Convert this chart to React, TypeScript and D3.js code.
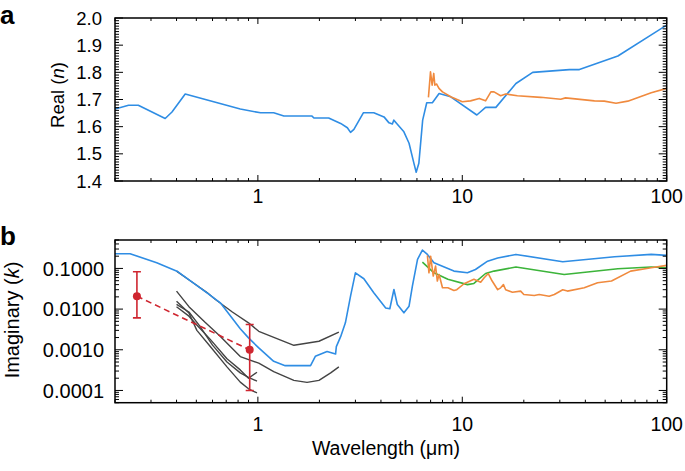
import React from 'react';
import * as d3 from 'd3';

// ---------- data ----------
const xTickLabels = ['1', '10', '100'];
const xTickValues = [1, 10, 100];
const realTickValues = [1.4, 1.5, 1.6, 1.7, 1.8, 1.9, 2.0];
const imagTickValues = [0.0001, 0.001, 0.01, 0.1];
const imagTickLabels = ['0.0001', '0.0010', '0.0100', '0.1000'];

// Panel a: real part
const realBlueWl = [0.2, 0.233, 0.26, 0.352, 0.38, 0.441, 0.82, 1.03, 1.195, 1.34, 1.84, 1.88, 2.22, 2.54, 2.74, 2.84, 2.95, 3.28, 3.69, 4.14, 4.38, 4.55, 4.62, 4.8, 5.18, 5.49, 5.8, 5.95, 6.13, 6.4, 6.7, 7.14, 7.7, 8.78, 11.78, 13.0, 14.6, 18.3, 22.1, 33.4, 37.4, 57.7, 100];
const realBlueN = [1.665, 1.679, 1.679, 1.630, 1.654, 1.72, 1.665, 1.651, 1.651, 1.639, 1.639, 1.632, 1.632, 1.612, 1.596, 1.579, 1.590, 1.651, 1.651, 1.636, 1.614, 1.61, 1.624, 1.61, 1.581, 1.539, 1.465, 1.432, 1.465, 1.624, 1.688, 1.688, 1.722, 1.71, 1.643, 1.671, 1.671, 1.759, 1.80, 1.81, 1.81, 1.86, 1.974];
const realOrangeWl = [6.83, 6.99, 7.12, 7.25, 7.34, 7.49, 7.69, 8.0, 8.78, 10.0, 10.97, 12.1, 13.0, 13.8, 14.3, 15.4, 16.3, 18.6, 24.2, 30.3, 32, 44.3, 49.5, 56.5, 64.5, 84, 100];
const realOrangeN = [1.708, 1.802, 1.753, 1.796, 1.753, 1.757, 1.741, 1.728, 1.71, 1.692, 1.695, 1.704, 1.695, 1.728, 1.728, 1.714, 1.72, 1.714, 1.708, 1.701, 1.706, 1.695, 1.694, 1.686, 1.694, 1.725, 1.741];

// Panel b: imaginary part
const imagBlueWl = [0.2, 0.237, 0.32, 0.402, 0.564, 0.655, 0.82, 0.90, 1.01, 1.195, 1.36, 1.81, 1.91, 2.18, 2.4, 2.42, 2.54, 2.68, 2.84, 3.0, 3.3, 3.69, 4.22, 4.42, 4.63, 4.81, 5.18, 5.49, 5.7, 6.04, 6.38, 6.75, 7.27, 9.1, 10.6, 11.6, 13.3, 14.9, 18.3, 31, 55.6, 84, 100];
const imagBlueK = [0.23, 0.23, 0.138, 0.0858, 0.0251, 0.0143, 0.0033, 0.00196, 0.00111, 0.00052, 0.000407, 0.000407, 0.00069, 0.00091, 0.00079, 0.0012, 0.0021, 0.0046, 0.0209, 0.078, 0.0557, 0.0252, 0.0107, 0.0102, 0.0303, 0.013, 0.0081, 0.0118, 0.0366, 0.167, 0.283, 0.221, 0.138, 0.086, 0.078, 0.094, 0.151, 0.18, 0.221, 0.146, 0.194, 0.221, 0.209];
const imagGreenWl = [6.38, 7.27, 8.5, 10.6, 11.4, 13.0, 14.3, 18.3, 31.5, 57.7, 84, 100];
const imagGreenK = [0.143, 0.078, 0.054, 0.040, 0.0427, 0.075, 0.086, 0.108, 0.071, 0.0985, 0.108, 0.104];
const imagOrangeWl = [6.75, 6.87, 7.0, 7.21, 7.4, 7.55, 7.7, 8.0, 8.5, 9.1, 9.4, 10.2, 11.4, 12.3, 12.8, 13.4, 14.0, 14.9, 15.4, 15.9, 16.3, 17.6, 19.3, 20.0, 22.5, 23.8, 26.6, 28.2, 31, 32.7, 39.5, 45.9, 53.7, 66.6, 84, 100];
const imagOrangeK = [0.209, 0.078, 0.2, 0.065, 0.114, 0.049, 0.071, 0.0334, 0.0334, 0.0287, 0.030, 0.042, 0.054, 0.046, 0.059, 0.075, 0.049, 0.030, 0.0334, 0.040, 0.030, 0.026, 0.0277, 0.0229, 0.0216, 0.0229, 0.0208, 0.0229, 0.030, 0.0277, 0.0334, 0.0445, 0.049, 0.086, 0.104, 0.119];

// grey laboratory curves
const grey1Wl = [0.40, 0.48, 0.564, 0.62, 0.75, 0.9, 1.01, 1.5, 1.99, 2.49];
const grey1K = [0.0858, 0.045, 0.0255, 0.0172, 0.0085, 0.0046, 0.00285, 0.00129, 0.00162, 0.0027];
const grey2Wl = [0.40, 0.46, 0.55, 0.65, 0.82, 1.01, 1.195, 1.5, 1.74, 1.99, 2.27, 2.49];
const grey2K = [0.0276, 0.0115, 0.0048, 0.0022, 0.00068, 0.00047, 0.00029, 0.000177, 0.000158, 0.000177, 0.00027, 0.00038];
const grey3Wl = [0.40, 0.46, 0.50, 0.585, 0.706, 0.82, 0.90, 0.99];
const grey3K = [0.0114, 0.0067, 0.0042, 0.0018, 0.0006, 0.00032, 0.0002, 0.00028];
const grey4Wl = [0.40, 0.46, 0.52, 0.60, 0.706, 0.82, 0.90, 0.99];
const grey4K = [0.013, 0.0085, 0.0038, 0.0013, 0.0005, 0.00027, 0.00021, 0.00017];
const grey5Wl = [0.40, 0.46, 0.503, 0.585, 0.706, 0.82, 0.90, 0.99];
const grey5K = [0.0156, 0.008, 0.003, 0.0012, 0.00038, 0.00016, 0.00011, 0.000087];

// red estimates with error bars
const redWl = [0.256, 0.912];
const redK = [0.0207, 0.001];
const redLo = [0.0061, 0.0001];
const redHi = [0.083, 0.0042];

// ---------- layout ----------
const W = 685, H = 471;
const L = 115, R = 666.7;
const aTop = 18, aBot = 181, bTop = 240, bBot = 402.7;

const BLUE = '#2f8de4';
const ORANGE = '#f08a3e';
const GREEN = '#3cb43a';
const RED = '#cf2630';
const GREY = '#444444';
const FONT = '"Liberation Sans", Arial, Helvetica, sans-serif';

const x = d3.scaleLog().domain([0.2, 100]).range([L, R]);
const yA = d3.scaleLinear().domain([1.4, 2.0]).range([aBot, aTop]);
const yB = d3.scaleLog().domain([5e-5, 0.5]).range([bBot, bTop]);

function zip(a: number[], b: number[]) { return a.map((v, i) => [v, b[i]] as [number, number]); }

const lineA = d3.line<[number, number]>().x(d => x(d[0])).y(d => yA(d[1]));
const lineB = d3.line<[number, number]>().x(d => x(d[0])).y(d => yB(d[1]));

const xMinor: number[] = [];
[0.1, 1, 10].forEach(dec => { for (let m = 2; m <= 9; m++) { const v = dec * m; if (v >= 0.2 && v <= 100) xMinor.push(v); } });
const aMinor: number[] = d3.range(140, 201).filter(v => v % 10 !== 0).map(v => v / 100);
const bMinor: number[] = [];
[1e-5, 1e-4, 1e-3, 1e-2, 1e-1].forEach(dec => { for (let m = 2; m <= 9; m++) { const v = dec * m; if (v >= 5e-5 && v <= 0.5 + 1e-9) bMinor.push(v); } });

function XTicks({ top, bot }: { top: number; bot: number }) {
  const els: React.ReactElement[] = [];
  xTickValues.forEach((v, i) => {
    const px = x(v);
    els.push(<line key={'M' + i} x1={px} x2={px} y1={bot} y2={bot - 6} />);
    els.push(<line key={'Mt' + i} x1={px} x2={px} y1={top} y2={top + 6} />);
  });
  xMinor.forEach((v, i) => {
    const px = x(v);
    els.push(<line key={'m' + i} x1={px} x2={px} y1={bot} y2={bot - 3} />);
    els.push(<line key={'mt' + i} x1={px} x2={px} y1={top} y2={top + 3} />);
  });
  return <g stroke="#000" strokeWidth={1}>{els}</g>;
}

function YTicks({ major, minor, scale }: { major: number[]; minor: number[]; scale: (v: number) => number }) {
  const els: React.ReactElement[] = [];
  major.forEach((v, i) => {
    const py = scale(v);
    els.push(<line key={'M' + i} x1={L} x2={L + 8} y1={py} y2={py} />);
    els.push(<line key={'Mr' + i} x1={R} x2={R - 8} y1={py} y2={py} />);
  });
  minor.forEach((v, i) => {
    const py = scale(v);
    els.push(<line key={'m' + i} x1={L} x2={L + 4} y1={py} y2={py} />);
    els.push(<line key={'mr' + i} x1={R} x2={R - 4} y1={py} y2={py} />);
  });
  return <g stroke="#000" strokeWidth={1}>{els}</g>;
}

export default function App() {
  const greys = [zip(grey1Wl, grey1K), zip(grey2Wl, grey2K), zip(grey3Wl, grey3K), zip(grey4Wl, grey4K), zip(grey5Wl, grey5K)];
  return (
    <svg width={W} height={H} style={{ position: 'absolute', left: 0, top: 0, background: '#fff' }} fontFamily={FONT}>
      <defs>
        <clipPath id="clipA"><rect x={L} y={aTop} width={R - L} height={aBot - aTop} /></clipPath>
        <clipPath id="clipB"><rect x={L} y={bTop} width={R - L} height={bBot - bTop} /></clipPath>
      </defs>
      <rect x={0} y={0} width={W} height={H} fill="#fff" />

      {/* Panel a */}
      <g clipPath="url(#clipA)" fill="none" strokeWidth={1.6} strokeLinejoin="round">
        <path d={lineA(zip(realBlueWl, realBlueN)) || ''} stroke={BLUE} />
        <path d={lineA(zip(realOrangeWl, realOrangeN)) || ''} stroke={ORANGE} />
      </g>
      <XTicks top={aTop} bot={aBot} />
      <YTicks major={realTickValues} minor={aMinor} scale={yA} />
      <rect x={L} y={aTop} width={R - L} height={aBot - aTop} fill="none" stroke="#000" strokeWidth={1.5} />
      {realTickValues.map(v => (
        <text key={v} x={102} y={yA(v)} dy="0.36em" textAnchor="end" fontSize={18.5}>{v.toFixed(1)}</text>
      ))}
      {xTickValues.map((v, i) => (
        <text key={v} x={x(v)} y={203} textAnchor="middle" fontSize={19.5}>{xTickLabels[i]}</text>
      ))}
      <text transform="translate(64,95) rotate(-90)" textAnchor="middle" fontSize={18.5}>Real (<tspan fontStyle="italic">n</tspan>)</text>
      <text x={0} y={24} fontSize={26} fontWeight="bold">a</text>

      {/* Panel b */}
      <g clipPath="url(#clipB)" fill="none" strokeWidth={1.6} strokeLinejoin="round">
        {greys.map((g, i) => <path key={i} d={lineB(g) || ''} stroke={GREY} strokeWidth={1.4} />)}
        <path d={lineB(zip(imagBlueWl, imagBlueK)) || ''} stroke={BLUE} />
        <path d={lineB(zip(imagGreenWl, imagGreenK)) || ''} stroke={GREEN} />
        <path d={lineB(zip(imagOrangeWl, imagOrangeK)) || ''} stroke={ORANGE} />
        <path d={lineB(zip(redWl, redK)) || ''} stroke={RED} strokeDasharray="6,4" />
        {redWl.map((w, i) => (
          <g key={i} stroke={RED} strokeWidth={1.6}>
            <line x1={x(w)} x2={x(w)} y1={yB(redLo[i])} y2={yB(redHi[i])} />
            <line x1={x(w) - 4} x2={x(w) + 4} y1={yB(redLo[i])} y2={yB(redLo[i])} />
            <line x1={x(w) - 4} x2={x(w) + 4} y1={yB(redHi[i])} y2={yB(redHi[i])} />
            <circle cx={x(w)} cy={yB(redK[i])} r={4} fill={RED} stroke="none" />
          </g>
        ))}
      </g>
      <XTicks top={bTop} bot={bBot} />
      <YTicks major={imagTickValues} minor={bMinor} scale={yB} />
      <rect x={L} y={bTop} width={R - L} height={bBot - bTop} fill="none" stroke="#000" strokeWidth={1.5} />
      {imagTickValues.map((v, i) => (
        <text key={v} x={104} y={yB(v)} dy="0.36em" textAnchor="end" fontSize={20}>{imagTickLabels[i]}</text>
      ))}
      {xTickValues.map((v, i) => (
        <text key={v} x={x(v)} y={431} textAnchor="middle" fontSize={19.5}>{xTickLabels[i]}</text>
      ))}
      <text transform="translate(19,320) rotate(-90)" textAnchor="middle" fontSize={20}>Imaginary (<tspan fontStyle="italic">k</tspan>)</text>
      <text x={386} y={455} textAnchor="middle" fontSize={19.5}>Wavelength (μm)</text>
      <text x={0} y={245} fontSize={26} fontWeight="bold">b</text>
    </svg>
  );
}
